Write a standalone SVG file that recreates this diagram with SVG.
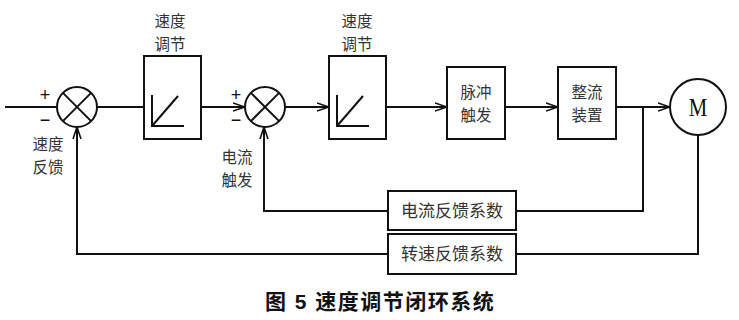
<svg xmlns="http://www.w3.org/2000/svg" width="739" height="320" viewBox="0 0 739 320">
<style>
.ln{fill:none;stroke:#111;stroke-width:2}
.bx{fill:#fff;stroke:#111;stroke-width:2}
.t{font-family:"Noto Sans CJK SC","Liberation Sans",sans-serif;font-size:17px;fill:#333;text-anchor:middle}
.t2{font-family:"Noto Sans CJK SC","Liberation Sans",sans-serif;font-size:15.5px;fill:#333;text-anchor:middle}
.pm{font-family:"Liberation Sans",sans-serif;font-size:18px;fill:#111;text-anchor:middle}
.cap{font-family:"Liberation Sans","Noto Sans CJK SC",sans-serif;font-size:21px;font-weight:bold;fill:#111;letter-spacing:1.5px}
</style>
<defs>
<marker id="ar" viewBox="0 0 12 10" refX="12" refY="5" markerWidth="12" markerHeight="10" markerUnits="userSpaceOnUse" orient="auto">
<path d="M0,1 L12,5 L0,9" fill="none" stroke="#111" stroke-width="1.6"/>
</marker>
</defs>
<rect width="739" height="320" fill="#fff"/>
<g id="connectors">
<line class="ln" x1="5" y1="107" x2="57" y2="107"/>
<line class="ln" x1="97" y1="107" x2="144" y2="107"/>
<line class="ln" x1="201" y1="107" x2="245" y2="107" marker-end="url(#ar)"/>
<line class="ln" x1="285" y1="107" x2="329" y2="107" marker-end="url(#ar)"/>
<line class="ln" x1="386" y1="107" x2="447" y2="107" marker-end="url(#ar)"/>
<line class="ln" x1="505" y1="107" x2="558" y2="107" marker-end="url(#ar)"/>
<line class="ln" x1="616" y1="107" x2="670" y2="107" marker-end="url(#ar)"/>
<polyline class="ln" points="643,107 643,211 516,211"/>
<polyline class="ln" points="388,211 264,211 264,127" marker-end="url(#ar)"/>
<polyline class="ln" points="698,135 698,254 516,254"/>
<polyline class="ln" points="388,254 77,254 77,127" marker-end="url(#ar)"/>
</g>
<g id="sum1">
<circle class="bx" cx="77" cy="107" r="20"/>
<line class="ln" x1="62.9" y1="92.9" x2="91.1" y2="121.1"/>
<line class="ln" x1="91.1" y1="92.9" x2="62.9" y2="121.1"/>
<text class="pm" x="45" y="101">+</text>
<text class="pm" x="45" y="126">−</text>
<text class="t2" x="48" y="150">速度</text>
<text class="t2" x="48" y="172.5">反馈</text>
</g>
<g id="reg1">
<rect class="bx" x="144" y="56" width="57" height="83"/>
<polyline class="ln" points="152,95 152,126 184,126"/>
<line class="ln" x1="152" y1="126" x2="178" y2="96"/>
<text class="t2" x="170" y="27">速度</text>
<text class="t2" x="170" y="49.5">调节</text>
</g>
<g id="sum2">
<circle class="bx" cx="265" cy="107" r="20"/>
<line class="ln" x1="250.9" y1="92.9" x2="279.1" y2="121.1"/>
<line class="ln" x1="279.1" y1="92.9" x2="250.9" y2="121.1"/>
<text class="pm" x="236" y="101">+</text>
<text class="pm" x="236" y="126">−</text>
<text class="t2" x="237" y="163">电流</text>
<text class="t2" x="237" y="185.5">触发</text>
</g>
<g id="reg2">
<rect class="bx" x="329" y="56" width="57" height="83"/>
<polyline class="ln" points="337,95 337,126 369,126"/>
<line class="ln" x1="337" y1="126" x2="363" y2="96"/>
<text class="t2" x="357" y="27">速度</text>
<text class="t2" x="357" y="49.5">调节</text>
</g>
<g id="pulse">
<rect class="bx" x="447" y="67" width="58" height="72"/>
<text class="t2" x="476" y="98">脉冲</text>
<text class="t2" x="476" y="120.5">触发</text>
</g>
<g id="rect">
<rect class="bx" x="558" y="67" width="58" height="72"/>
<text class="t2" x="587" y="98">整流</text>
<text class="t2" x="587" y="120.5">装置</text>
</g>
<g id="motor">
<circle class="bx" cx="698" cy="107" r="28"/>
<text x="698" y="116" font-family="'Liberation Serif',serif" font-size="26" fill="#111" text-anchor="middle" transform="translate(698 0) scale(0.8 1) translate(-698 0)">M</text>
</g>
<g id="ifb">
<rect class="bx" x="388" y="191" width="128" height="39"/>
<text class="t" x="452" y="217">电流反馈系数</text>
</g>
<g id="nfb">
<rect class="bx" x="388" y="234" width="128" height="40"/>
<text class="t" x="452" y="260">转速反馈系数</text>
</g>
<text class="cap" x="265" y="309">图 5  速度调节闭环系统</text>
</svg>
